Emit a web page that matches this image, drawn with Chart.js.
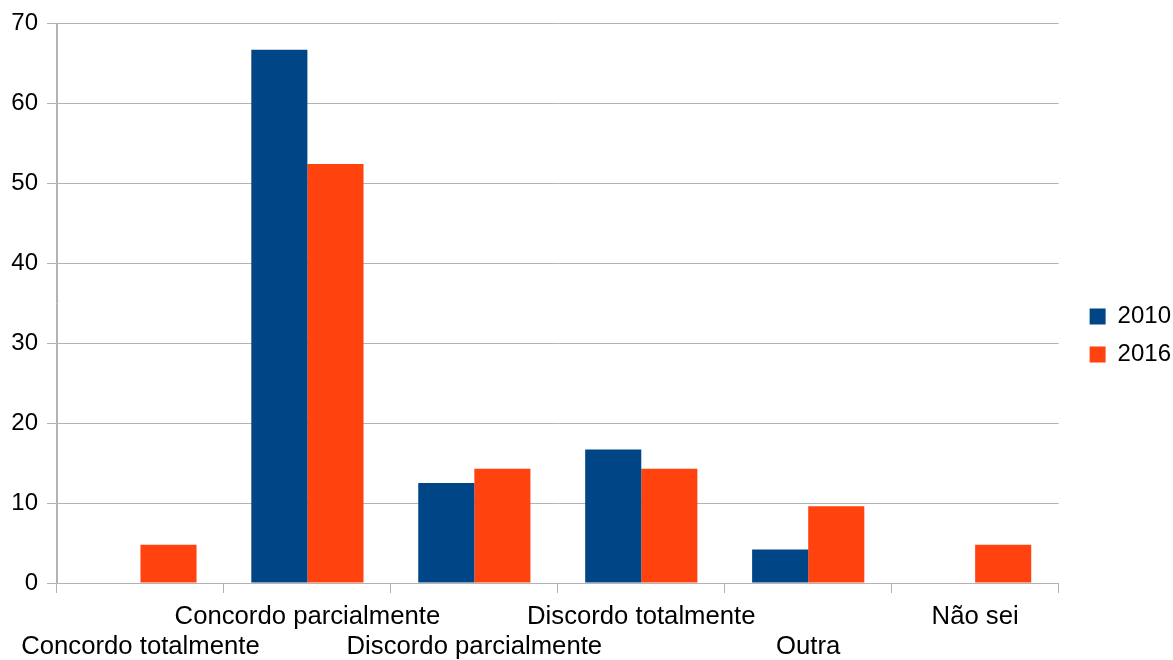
<!DOCTYPE html>
<html>
<head>
<meta charset="utf-8">
<script src="https://cdn.jsdelivr.net/npm/chart.js@4.4.1/dist/chart.umd.min.js"></script>
<style>
html,body{margin:0;padding:0;background:#fff;}
#wrap{width:1173px;height:660px;position:relative;}
</style>
</head>
<body>
<div id="wrap"><canvas id="c" width="1173" height="660"></canvas></div>
<script>
const categories = ["Concordo totalmente","Concordo parcialmente","Discordo parcialmente","Discordo totalmente","Outra","Não sei"];
const seriesNames = ["2010","2016"];
const values2010 = [0, 66.7, 12.5, 16.7, 4.2, 0];
const values2016 = [4.8, 52.4, 14.3, 14.3, 9.6, 4.8];
const colors = ["#004586","#ff420e"];
const gridColor = "#b3b3b3";

Chart.defaults.font.family = "'Liberation Sans', Arial, sans-serif";
Chart.defaults.font.size = 24;
Chart.defaults.color = "#000";

const legendShift = {
  id: 'legendShift',
  afterLayout(chart) {
    if (chart.legend) { chart.legend.left += 17; chart.legend.right += 17; }
  }
};

new Chart(document.getElementById('c'), {
  type: 'bar',
  data: {
    labels: categories,
    datasets: [
      {label: seriesNames[0], data: values2010, backgroundColor: colors[0], borderWidth: 0},
      {label: seriesNames[1], data: values2016, backgroundColor: colors[1], borderWidth: 0}
    ]
  },
  plugins: [legendShift],
  options: {
    responsive: false,
    animation: false,
    devicePixelRatio: 1,
    layout: {padding: {top: 11, right: 9, left: 0, bottom: 0}},
    datasets: {bar: {barPercentage: 1, categoryPercentage: 0.672}},
    plugins: {
      tooltip: {enabled: false},
      legend: {
        position: 'right',
        labels: {boxWidth: 16, boxHeight: 16, padding: 14, font: {size: 24}, color: '#000'}
      }
    },
    scales: {
      x: {
        offset: true,
        grid: {
          display: true,
          drawOnChartArea: true,
          color: (ctx) => (ctx.index === 0 || ctx.index === categories.length) ? gridColor : 'rgba(0,0,0,0)',
          tickColor: gridColor,
          tickLength: 10,
          lineWidth: 1
        },
        border: {display: true, color: gridColor},
        ticks: {
          autoSkip: false,
          maxRotation: 0,
          minRotation: 0,
          padding: 9,
          font: {size: 25.7, lineHeight: 1.167},
          callback: function(value, index) {
            const lbl = categories[index];
            return index % 2 === 0 ? ['', lbl] : [lbl];
          }
        },
        afterFit: (scale) => { scale.height = 77; }
      },
      y: {
        min: 0,
        max: 70,
        ticks: {stepSize: 10, padding: 9, font: {size: 24}},
        grid: {color: gridColor, tickColor: gridColor, tickLength: 10, lineWidth: 1},
        border: {display: true, color: gridColor},
        afterFit: (scale) => { scale.width = 57; }
      }
    }
  }
});
</script>
</body>
</html>
